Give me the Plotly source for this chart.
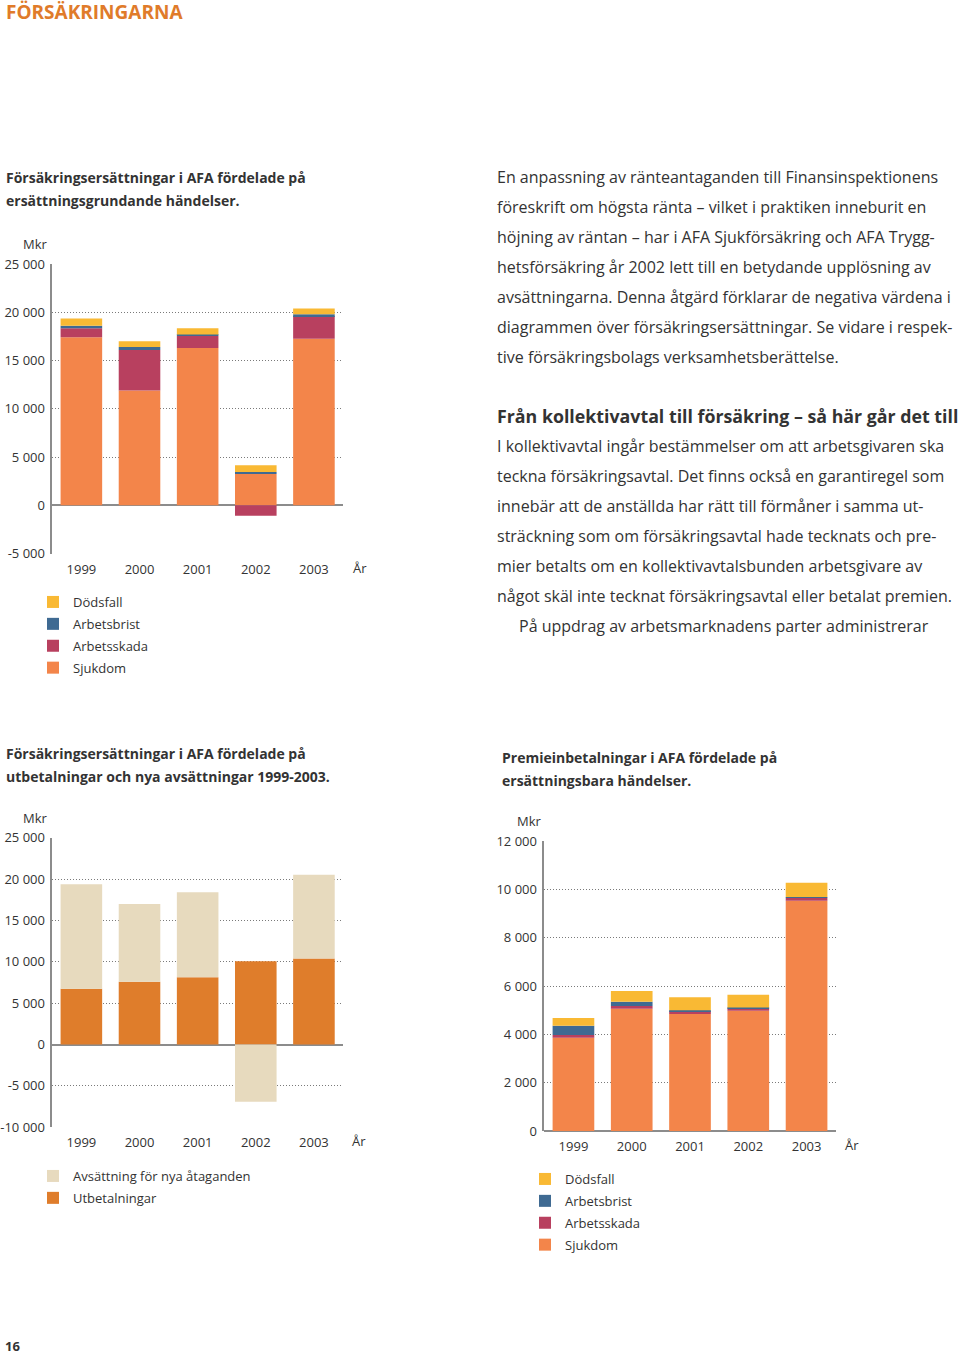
import plotly.graph_objects as go

W, H = 960, 1354
FONT = "Open Sans"
TXT = "#333333"
GRID = "#7a7a7a"

years = ["1999", "2000", "2001", "2002", "2003"]

# Chart 1: Försäkringsersättningar fördelade på ersättningsgrundande händelser (Mkr)
c1_sjukdom = [17400, 11900, 16300, 3250, 17250]
c1_arbetsskada = [950, 4200, 1250, -1100, 2350]
c1_arbetsbrist = [250, 300, 150, 200, 200]
c1_dodsfall = [750, 600, 650, 700, 600]

# Chart 2: utbetalningar och nya avsättningar (Mkr)
c2_utbetalningar = [6730, 7600, 8140, 10070, 10390]
c2_avsattning = [12650, 9400, 10260, -6920, 10140]

# Chart 3: Premieinbetalningar fördelade på ersättningsbara händelser (Mkr)
c3_sjukdom = [3860, 5060, 4840, 4980, 9530]
c3_arbetsskada = [110, 110, 120, 100, 120]
c3_arbetsbrist = [390, 180, 40, 30, 30]
c3_dodsfall = [320, 440, 530, 530, 590]

y1_ticks = [-5000, 0, 5000, 10000, 15000, 20000, 25000]
y1_text = ["-5 000", "0", "5 000", "10 000", "15 000", "20 000", "25 000"]
y2_ticks = [-10000, -5000, 0, 5000, 10000, 15000, 20000, 25000]
y2_text = ["-10 000", "-5 000", "0", "5 000", "10 000", "15 000", "20 000", "25 000"]
y3_ticks = [0, 2000, 4000, 6000, 8000, 10000, 12000]
y3_text = ["0", "2 000", "4 000", "6 000", "8 000", "10 000", "12 000"]

C_SJ = "#f3854a"
C_AS = "#b8405f"
C_AB = "#3f6a92"
C_DF = "#f9b934"
C_UT = "#df7d2b"
C_AV = "#e7dabe"


def px_x(x):
    return x / W


def px_y(y):
    return 1 - y / H


fig = go.Figure()

# chart 1 (stack order bottom->top; legend shows top->bottom)
for rank, (name, vals, col) in enumerate([("Sjukdom", c1_sjukdom, C_SJ), ("Arbetsskada", c1_arbetsskada, C_AS),
                                          ("Arbetsbrist", c1_arbetsbrist, C_AB), ("Dödsfall", c1_dodsfall, C_DF)]):
    fig.add_trace(go.Bar(x=years, y=vals, name=name, marker_color=col, marker_line_width=0,
                         xaxis="x", yaxis="y", legend="legend", legendgroup="a" + name,
                         legendrank=1000 - rank))
# chart 2
for rank, (name, vals, col) in enumerate([("Utbetalningar", c2_utbetalningar, C_UT),
                                          ("Avsättning för nya åtaganden", c2_avsattning, C_AV)]):
    fig.add_trace(go.Bar(x=years, y=vals, name=name, marker_color=col, marker_line_width=0,
                         xaxis="x2", yaxis="y2", legend="legend2", legendgroup="b" + name,
                         legendrank=1000 - rank))
# chart 3
for rank, (name, vals, col) in enumerate([("Sjukdom", c3_sjukdom, C_SJ), ("Arbetsskada", c3_arbetsskada, C_AS),
                                          ("Arbetsbrist", c3_arbetsbrist, C_AB), ("Dödsfall", c3_dodsfall, C_DF)]):
    fig.add_trace(go.Bar(x=years, y=vals, name=name, marker_color=col, marker_line_width=0,
                         xaxis="x3", yaxis="y3", legend="legend3", legendgroup="c" + name,
                         legendrank=1000 - rank))

tickfont = dict(family=FONT, size=13, color=TXT)


def xaxis(dom, anchor):
    return dict(domain=dom, anchor=anchor, type="category", range=[-0.5, 4.5], showgrid=False,
                showline=False, zeroline=False, ticks="", tickfont=tickfont, fixedrange=True,
                ticklabelstandoff=6, automargin=False)


def yaxis(dom, anchor, rng, tv, tt):
    return dict(domain=dom, anchor=anchor, range=rng, tickvals=tv, ticktext=tt, showgrid=True,
                gridcolor=GRID, griddash="1px,2px", gridwidth=1, zeroline=True, zerolinecolor="#8c8c8c",
                zerolinewidth=1.5, showline=True, linecolor="#8c8c8c", linewidth=1.5, ticks="",
                tickfont=tickfont, fixedrange=True, automargin=False, ticklabelstandoff=3)


d1x = [px_x(52.3), px_x(343)]
d1y = [px_y(553.5), px_y(264)]
d2x = [px_x(52.3), px_x(343)]
d2y = [px_y(1127.3), px_y(837.7)]
d3x = [px_x(544.3), px_x(835.7)]
d3y = [px_y(1131), px_y(841)]

legfont = dict(family=FONT, size=13, color=TXT)


def legend(x, y):
    return dict(x=px_x(x), y=px_y(y), xanchor="left", yanchor="top", font=legfont,
                traceorder="grouped", tracegroupgap=2, itemwidth=30, bgcolor="rgba(0,0,0,0)",
                itemclick=False, itemdoubleclick=False)


fig.update_layout(
    width=W, height=H, margin=dict(l=0, r=0, t=0, b=0, autoexpand=False),
    paper_bgcolor="white", plot_bgcolor="white",
    barmode="relative", bargap=0.285,
    font=dict(family=FONT, color=TXT),
    xaxis=xaxis(d1x, "y"), yaxis=yaxis(d1y, "x", [-5000, 25000], y1_ticks, y1_text),
    xaxis2=xaxis(d2x, "y2"), yaxis2=yaxis(d2y, "x2", [-10000, 25000], y2_ticks, y2_text),
    xaxis3=xaxis(d3x, "y3"), yaxis3=yaxis(d3y, "x3", [0, 12000], y3_ticks, y3_text),
    legend=legend(33, 587), legend2=legend(33, 1161), legend3=legend(525, 1164),
)

ann = []


def text(x, y, s, size=16, bold=False, color=TXT, xanchor="left"):
    ann.append(dict(x=px_x(x), y=px_y(y), xref="paper", yref="paper", text=("<b>%s</b>" % s) if bold else s,
                    showarrow=False, xanchor=xanchor, yanchor="middle",
                    font=dict(family=FONT, size=size, color=color)))


text(4, 12, "FÖRSÄKRINGARNA", size=19, bold=True, color="#e07b2a")

# chart titles
text(4, 177, "Försäkringsersättningar i AFA fördelade på", size=14, bold=True)
text(4, 200, "ersättningsgrundande händelser.", size=14, bold=True)
text(4, 753, "Försäkringsersättningar i AFA fördelade på", size=14, bold=True)
text(4, 776, "utbetalningar och nya avsättningar 1999-2003.", size=14, bold=True)
text(500, 757, "Premieinbetalningar i AFA fördelade på", size=14, bold=True)
text(500, 780, "ersättningsbara händelser.", size=14, bold=True)

# axis unit labels
text(35, 244, "Mkr", size=13, xanchor="center")
text(35, 818, "Mkr", size=13, xanchor="center")
text(529, 821, "Mkr", size=13, xanchor="center")
text(360, 568, "År", size=13, xanchor="center")
text(359, 1141, "År", size=13, xanchor="center")
text(852, 1145, "År", size=13, xanchor="center")

body = [
    (177, "En anpassning av ränteantaganden till Finansinspektionens"),
    (207, "föreskrift om högsta ränta – vilket i praktiken inneburit en"),
    (237, "höjning av räntan – har i AFA Sjukförsäkring och AFA Trygg-"),
    (267, "hetsförsäkring år 2002 lett till en betydande upplösning av"),
    (297, "avsättningarna. Denna åtgärd förklarar de negativa värdena i"),
    (327, "diagrammen över försäkringsersättningar. Se vidare i respek-"),
    (357, "tive försäkringsbolags verksamhetsberättelse."),
    (446, "I kollektivavtal ingår bestämmelser om att arbetsgivaren ska"),
    (476, "teckna försäkringsavtal. Det finns också en garantiregel som"),
    (506, "innebär att de anställda har rätt till förmåner i samma ut-"),
    (536, "sträckning som om försäkringsavtal hade tecknats och pre-"),
    (566, "mier betalts om en kollektivavtalsbunden arbetsgivare av"),
    (596, "något skäl inte tecknat försäkringsavtal eller betalat premien."),
]
for yy, s in body:
    text(495, yy, s, size=16)
text(517, 626, "På uppdrag av arbetsmarknadens parter administrerar", size=16)
text(495, 416, "Från kollektivavtal till försäkring – så här går det till", size=17.8, bold=True)

text(3, 1346, "16", size=13, bold=True)

fig.update_layout(annotations=ann)
fig.write_html("out.html", config={"displayModeBar": False},
               post_script="document.body.style.margin='0px';document.body.style.padding='0px';")
